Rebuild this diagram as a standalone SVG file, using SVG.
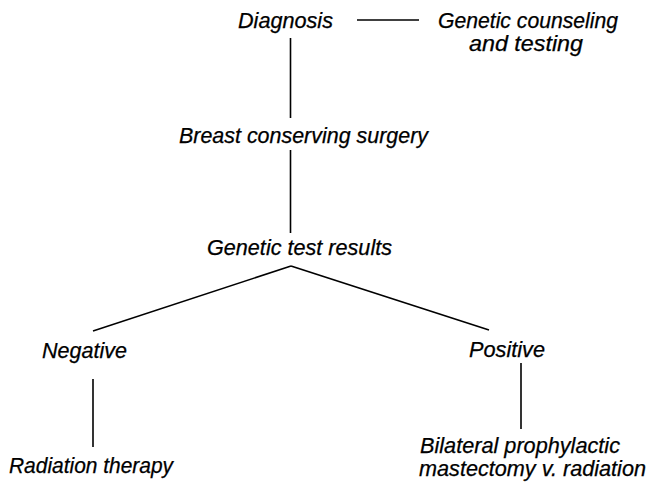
<svg xmlns="http://www.w3.org/2000/svg" width="650" height="483" viewBox="0 0 650 483">
<style>
text{font-family:"Liberation Sans",Arial,sans-serif;font-style:italic;font-size:21.5px;fill:#000;stroke:#000;stroke-width:0.25}
.c line{stroke:#000;stroke-width:1.6}
</style>
<rect width="650" height="483" fill="#fff"/>
<g class="c" id="connectors">
<line x1="357" y1="20" x2="419" y2="20"/>
<line x1="290.5" y1="38" x2="290.5" y2="118"/>
<line x1="290.5" y1="150" x2="290.5" y2="233"/>
<line x1="291" y1="266" x2="93" y2="331"/>
<line x1="291" y1="266" x2="489" y2="330"/>
<line x1="93" y1="379" x2="93" y2="447"/>
<line x1="521" y1="363" x2="521" y2="429"/>
</g>
<g id="n-diagnosis"><text x="238" y="28" textLength="95" lengthAdjust="spacingAndGlyphs">Diagnosis</text></g>
<g id="n-genetic"><text x="438" y="28" textLength="180" lengthAdjust="spacingAndGlyphs">Genetic counseling</text><text x="469" y="51" textLength="114" lengthAdjust="spacingAndGlyphs">and testing</text></g>
<g id="n-surgery"><text x="179" y="142.5" textLength="249" lengthAdjust="spacingAndGlyphs">Breast conserving surgery</text></g>
<g id="n-results"><text x="207" y="255" textLength="185" lengthAdjust="spacingAndGlyphs">Genetic test results</text></g>
<g id="n-negative"><text x="42" y="358" textLength="85" lengthAdjust="spacingAndGlyphs">Negative</text></g>
<g id="n-positive"><text x="469" y="357" textLength="76" lengthAdjust="spacingAndGlyphs">Positive</text></g>
<g id="n-radiation"><text x="9" y="473" textLength="164" lengthAdjust="spacingAndGlyphs">Radiation therapy</text></g>
<g id="n-bilateral"><text x="420" y="453" textLength="200" lengthAdjust="spacingAndGlyphs">Bilateral prophylactic</text><text x="419" y="476" textLength="227" lengthAdjust="spacingAndGlyphs">mastectomy v. radiation</text></g>
</svg>
